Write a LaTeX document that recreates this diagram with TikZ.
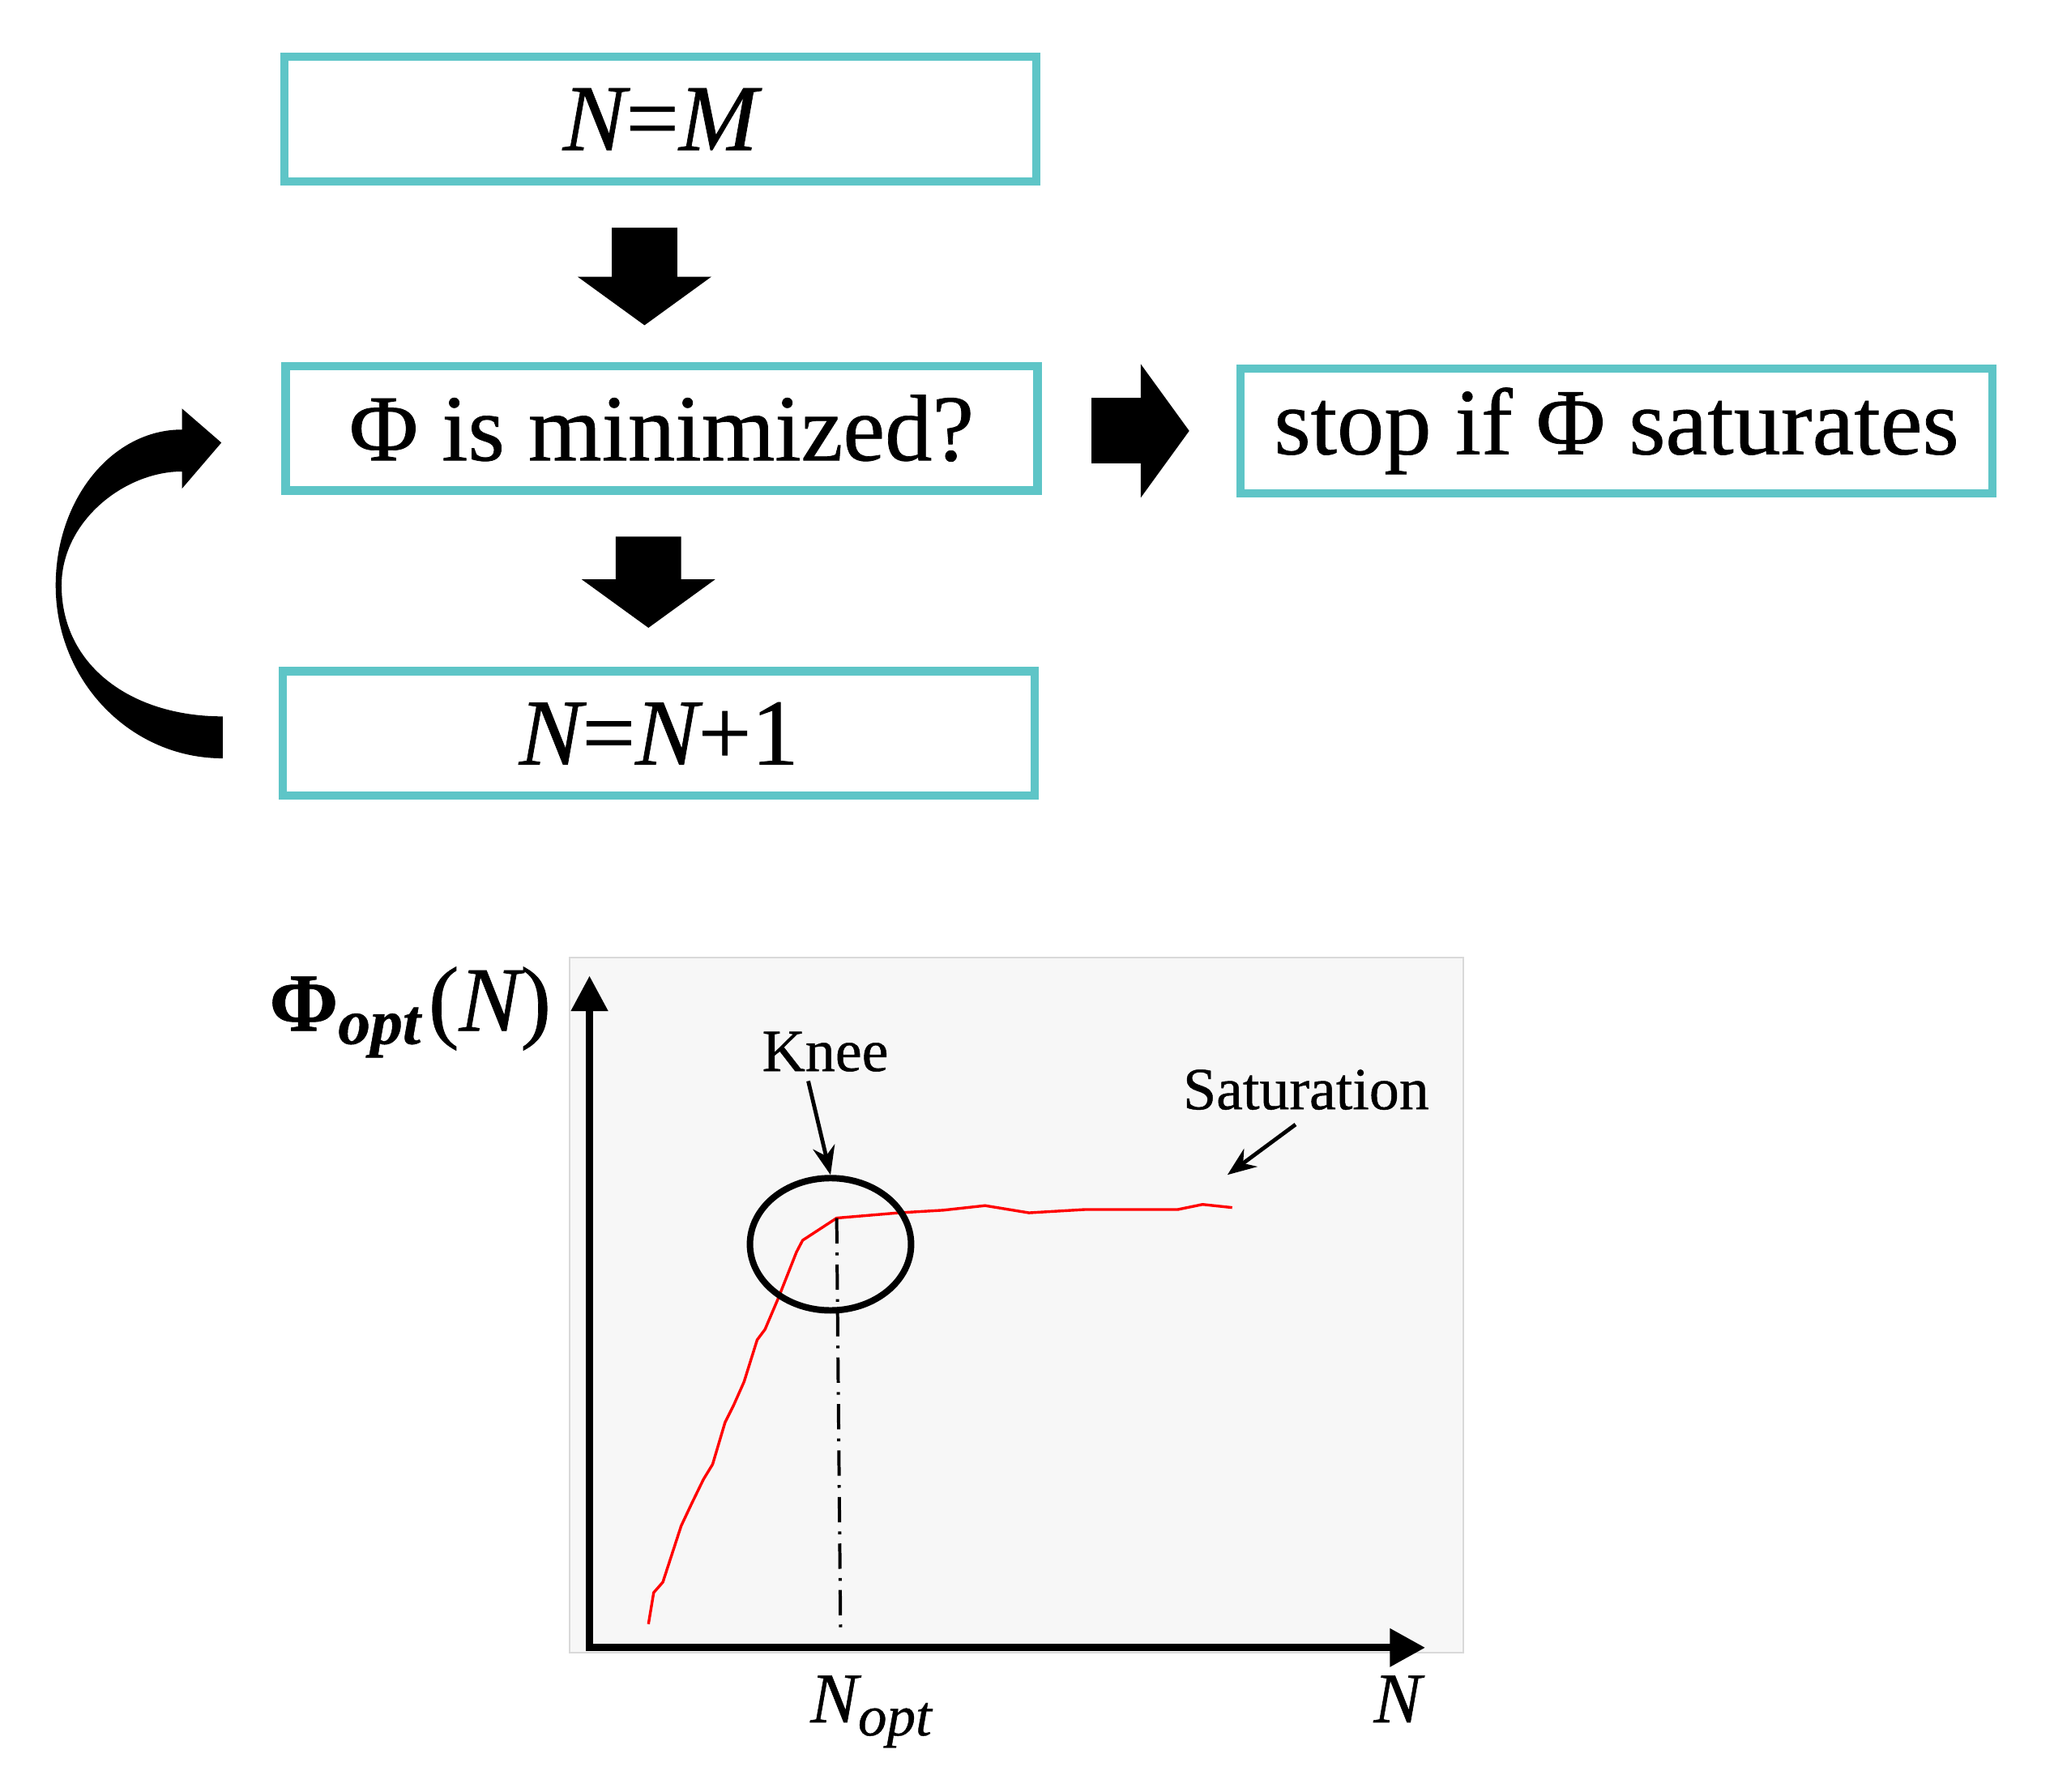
\documentclass[tikz,border=0pt]{standalone}
\usepackage{fontspec}
\setmainfont{Liberation Serif}[FakeBold=0.6]
\usetikzlibrary{arrows.meta,calc,shapes.geometric}

\definecolor{boxcyan}{RGB}{94,197,199}
\definecolor{plotbg}{RGB}{247,247,247}

\tikzset{
    stepbox/.style={draw=boxcyan, line width=1.8pt, minimum width=5.74cm, minimum height=0.95cm, inner sep=0pt, font=\fontsize{20.5}{24}\selectfont},
    blockarrow/.style={line width=0.5cm, -{Triangle[width=1.02cm,length=0.37cm,line width=0pt]}},
    axis/.style={line width=1.6pt, {Triangle[width=0.27cm,length=0.27cm]}-{Triangle[width=0.28cm,length=0.27cm]}},
    callout/.style={line width=0.85pt, -{Stealth[length=0.22cm,width=0.17cm]}},
    dashdot/.style={line width=0.7pt, dash pattern=on 5.5pt off 2pt on 0.6pt off 2pt},
    note/.style={inner sep=1pt, font=\fontsize{13}{15}\selectfont},
}

\begin{document}
\begin{tikzpicture}
    \useasboundingbox (0,0) rectangle (15.68,13.68);

    \node [stepbox] (m) at (5.04,12.77) {{\itshape N}={\itshape M}};
    \node [stepbox] (p) at (5.05,10.41) {Φ is minimized?};
    \node [stepbox] (s) at (12.34,10.39) {stop if Φ saturates};
    \node [stepbox] (n) at (5.03,8.08) {{\itshape N}={\itshape N}+1};

    \draw [blockarrow] ([xshift=-0.12cm,yshift=-0.32cm]m.south) -- ([xshift=-0.13cm,yshift=0.28cm]p.north);
    \draw [blockarrow] ([xshift=-0.10cm,yshift=-0.32cm]p.south) -- ([xshift=-0.08cm,yshift=0.30cm]n.north);
    \draw [blockarrow] ([xshift=0.38cm,yshift=-0.02cm]p.east) -- ([xshift=-0.36cm,yshift=-0.02cm]p.east -| s.west);

    % loop back from N=N+1 to the test
    \fill (1.70,7.89) .. controls (0.996,7.89) and (0.425,8.48) .. (0.425,9.21)
        .. controls (0.425,9.87) and (0.857,10.40) .. (1.39,10.40)
        -- (1.39,10.56) -- (1.69,10.30) -- (1.39,9.95) -- (1.39,10.08)
        .. controls (0.95,10.08) and (0.47,9.70) .. (0.47,9.21)
        .. controls (0.47,8.60) and (1.00,8.21) .. (1.70,8.21) -- cycle;

    % the curve
    \fill [plotbg, draw=gray!30, line width=0.3pt] (4.35,1.06) rectangle (11.17,6.37);
    \coordinate (o) at (4.50,1.10);
    \coordinate (ytip) at (4.50,6.23);
    \coordinate (xtip) at (10.88,1.10);
    \draw [axis] (ytip) -- (o) -- (xtip);
    \draw [red, line width=0.6pt] plot coordinates {(4.95,1.28) (4.99,1.52) (5.06,1.60) (5.20,2.03) (5.28,2.20) (5.37,2.385) (5.44,2.50) (5.535,2.82) (5.60,2.95) (5.68,3.13) (5.78,3.45) (5.84,3.53) (5.94,3.765) (6.08,4.12) (6.127,4.21) (6.387,4.38) (6.86,4.42) (7.20,4.44) (7.52,4.475) (7.855,4.42) (8.28,4.445) (8.99,4.445) (9.18,4.484) (9.406,4.46)};
    \coordinate (knee) at (6.387,4.38);
    \coordinate (satend) at (9.37,4.71);
    \draw [dashdot] (knee) -- ([xshift=0.03cm,yshift=0.10cm]knee |- o);
    \node [draw, ellipse, line width=1.4pt, minimum width=1.23cm, minimum height=1.01cm, inner sep=0pt] (kc) at (6.34,4.18) {};

    \node [note] (klab) at (6.30,5.65) {Knee};
    \node [note] (slab) at (9.97,5.36) {Saturation};
    \draw [callout] ([xshift=-0.13cm,yshift=-0.03cm]klab.south) -- (kc.north);
    \draw [callout] ([xshift=-0.08cm,yshift=-0.07cm]slab.south) -- (satend);

    \node [anchor=base west, inner sep=0pt, font=\fontsize{20}{24}\selectfont] (ylab) at (2.05,5.81)
        {{\fontsize{18}{20}\selectfont\bfseries Φ}\raisebox{-0.10cm}{\fontsize{14}{14}\selectfont\bfseries\itshape opt}\hspace{0.06cm}({\itshape N})};
    \node [anchor=base west, inner sep=0pt, font=\fontsize{15.5}{18}\selectfont] (nopt) at (6.18,0.53)
        {{\itshape N}\raisebox{-0.10cm}{\fontsize{12.5}{13}\selectfont\itshape opt}};
    \node [anchor=base west, inner sep=0pt, font=\fontsize{15.5}{18}\selectfont] (nlab) at (10.48,0.53) {\itshape N};
\end{tikzpicture}
\end{document}
